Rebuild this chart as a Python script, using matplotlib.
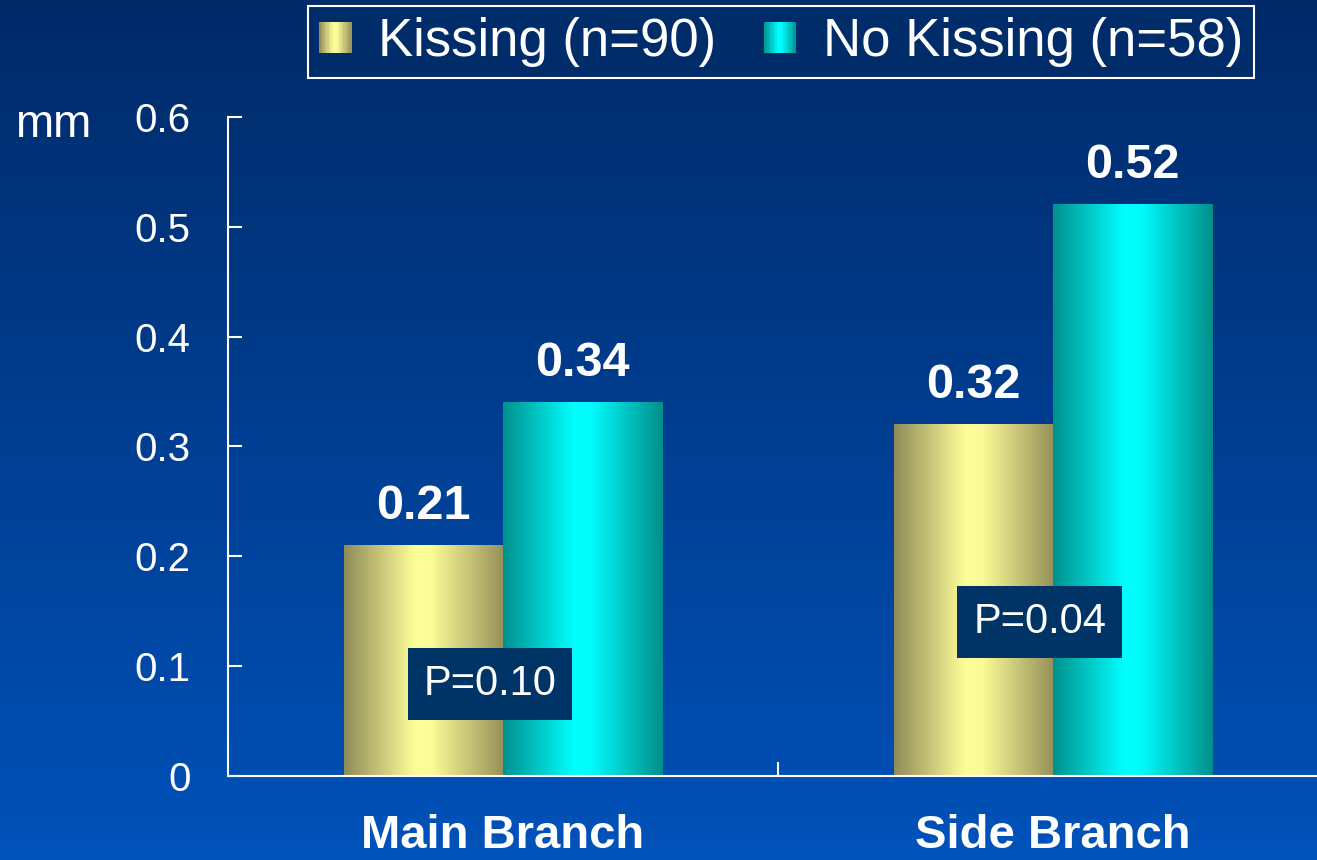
import matplotlib
matplotlib.use('Agg')
import matplotlib.pyplot as plt
import numpy as np
from matplotlib.colors import LinearSegmentedColormap
from matplotlib.legend_handler import HandlerBase
from matplotlib.patches import Rectangle

plt.rcParams['font.family'] = ['Liberation Sans', 'DejaVu Sans']

categories = ['Main Branch', 'Side Branch']
series_labels = ['Kissing (n=90)', 'No Kissing (n=58)']
kissing = [0.21, 0.32]
no_kissing = [0.34, 0.52]
p_labels = ['P=0.10', 'P=0.04']
p_x = [-0.024, 0.976]
p_y = [0.084, 0.140]
yticks = [0, 0.1, 0.2, 0.3, 0.4, 0.5, 0.6]
ytick_labels = ['0', '0.1', '0.2', '0.3', '0.4', '0.5', '0.6']

# cylinder-like shading across each bar
gold = LinearSegmentedColormap.from_list(
    'gold', [(0, '#8f8b58'), (0.45, '#ffff99'), (0.55, '#fbfb97'), (1, '#969159')])
teal = LinearSegmentedColormap.from_list(
    'teal', [(0, '#00918e'), (0.45, '#00ffff'), (0.55, '#00fbfb'), (1, '#008f8b')])
bg_cmap = LinearSegmentedColormap.from_list('bg', ['#0052ba', '#002a68'])


class GradientHandler(HandlerBase):
    def __init__(self, cmap):
        super().__init__()
        self.cmap = cmap

    def create_artists(self, legend, orig_handle, xdescent, ydescent,
                       width, height, fontsize, trans):
        n = 20
        w = width / n
        return [Rectangle((-xdescent + i * w, -ydescent), w * 1.05, height,
                          facecolor=self.cmap((i + 0.5) / n), edgecolor='none',
                          transform=trans) for i in range(n)]


def shade(ax, bars, cmap):
    ramp = np.linspace(0, 1, 256).reshape(1, -1)
    for b in bars:
        x0, y0 = b.get_xy()
        ax.imshow(ramp, cmap=cmap, aspect='auto', zorder=2,
                  extent=[x0, x0 + b.get_width(), y0, y0 + b.get_height()])


fig = plt.figure(figsize=(13.17, 8.6), dpi=100)

bg = fig.add_axes([0, 0, 1, 1], zorder=-1)
bg.imshow(np.linspace(0, 1, 256).reshape(-1, 1), cmap=bg_cmap, aspect='auto',
          extent=[0, 1, 0, 1], origin='lower')
bg.axis('off')

ax = fig.add_axes([228 / 1317, 84 / 860, 1089 / 1317, 659 / 860])
ax.set_facecolor('none')

x = np.arange(len(categories))
w = 0.29
bars_k = ax.bar(x - w / 2, kissing, w, color='none', edgecolor='none')
bars_n = ax.bar(x + w / 2, no_kissing, w, color='none', edgecolor='none')
shade(ax, bars_k, gold)
shade(ax, bars_n, teal)

for xs, vals in ((x - w / 2, kissing), (x + w / 2, no_kissing)):
    for xi, v in zip(xs, vals):
        ax.annotate(f'{v:.2f}', (xi, v), xytext=(0, 12), textcoords='offset points',
                    ha='center', va='bottom', fontsize=35, fontweight='bold',
                    color='white', zorder=4)

for px, py, lab in zip(p_x, p_y, p_labels):
    ax.text(px, py, lab, ha='center', va='center', fontsize=30, color='white',
            zorder=5, bbox=dict(boxstyle='square,pad=0.38', facecolor='#003366',
                                edgecolor='none'))

ax.set_xlim(-0.5, -0.5 + 1089 / 550)
ax.set_ylim(0, 0.6)
ax.set_yticks(yticks, ytick_labels)
ax.set_xticks(x, categories, fontsize=34, fontweight='bold')
ax.set_xticks([0.5], minor=True)
ax.tick_params(axis='y', direction='in', length=10, width=1.5, pad=27,
               labelsize=29, colors='white')
ax.tick_params(axis='x', which='major', length=0, pad=27, colors='white')
ax.tick_params(axis='x', which='minor', direction='in', length=10, width=1.5,
               color='white')
for s in ('top', 'right'):
    ax.spines[s].set_visible(False)
for s in ('left', 'bottom'):
    ax.spines[s].set_color('white')
    ax.spines[s].set_linewidth(1.5)

fig.text(53 / 1317, 1 - 125 / 860, 'mm', ha='center', va='center',
         fontsize=33, color='white')

leg = fig.legend([bars_k, bars_n], series_labels,
                 handler_map={bars_k: GradientHandler(gold), bars_n: GradientHandler(teal)},
                 loc='center', bbox_to_anchor=(781 / 1317, 1 - 42 / 860), ncol=2,
                 fontsize=38, labelcolor='white', facecolor='#002c6a', edgecolor='white',
                 framealpha=1, fancybox=False, borderpad=0.2, handlelength=0.62,
                 handleheight=0.52, handletextpad=0.5, columnspacing=0.9,
                 borderaxespad=0)
leg.get_frame().set_linewidth(1.5)

fig.savefig('out.png', dpi=100)
